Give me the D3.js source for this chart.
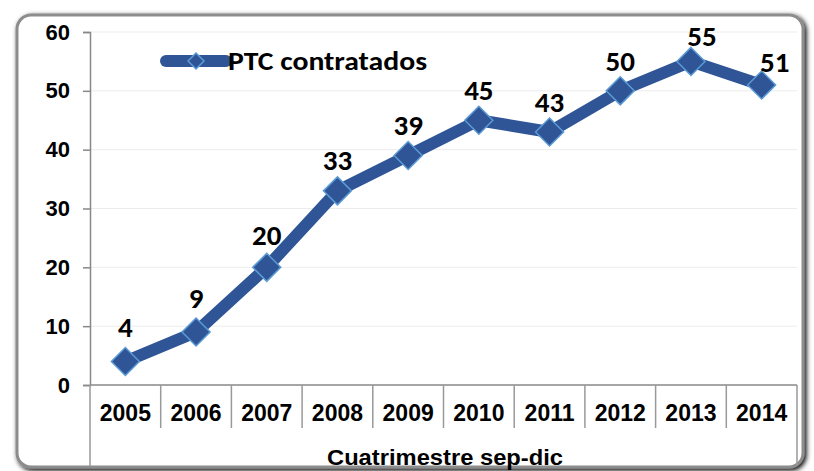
<!DOCTYPE html>
<html>
<head>
<meta charset="utf-8">
<script src="https://cdn.jsdelivr.net/npm/d3@7"></script>
<style>
  body { margin: 0; background: #fff; }
  svg { display: block; }
</style>
</head>
<body>
<div id="chart"></div>
<script>
const years = ["2005", "2006", "2007", "2008", "2009", "2010", "2011", "2012", "2013", "2014"];
const contratados = [4, 9, 20, 33, 39, 45, 43, 50, 55, 51];
const yTicks = [0, 10, 20, 30, 40, 50, 60];
const seriesName = "PTC contratados";
const axisTitle = "Cuatrimestre sep-dic";

const width = 814, height = 471;
const svg = d3.select("#chart").append("svg")
  .attr("width", width)
  .attr("height", height);

const defs = svg.append("defs");
const shadow = defs.append("filter").attr("id", "shadow")
  .attr("x", "-5%").attr("y", "-5%").attr("width", "110%").attr("height", "110%");
shadow.append("feGaussianBlur").attr("in", "SourceAlpha").attr("stdDeviation", 2.5);
shadow.append("feOffset").attr("dx", 2).attr("dy", 2).attr("result", "b");
const merge = shadow.append("feMerge");
merge.append("feMergeNode").attr("in", "b");
merge.append("feMergeNode").attr("in", "SourceGraphic");

// outer frame
svg.append("rect")
  .attr("x", 17).attr("y", 15)
  .attr("width", 786).attr("height", 452)
  .attr("rx", 14)
  .attr("fill", "#fff")
  .attr("stroke", "#8c8c8c")
  .attr("stroke-width", 3)
  .attr("filter", "url(#shadow)");

const plotLeft = 90, plotRight = 797, plotTop = 32, plotBottom = 385;
const axisFont = "'Liberation Sans', Arial, sans-serif";
const labelFont = "Carlito, Lato, 'Open Sans', sans-serif";

const x = d3.scaleBand().domain(years).range([plotLeft, plotRight]);
const y = d3.scaleLinear().domain([0, 60]).range([plotBottom, plotTop]);

const g = svg.append("g");

// gridlines
g.selectAll("line.grid")
  .data(yTicks.filter(d => d > 0))
  .enter().append("line")
  .attr("class", "grid")
  .attr("x1", plotLeft).attr("x2", plotRight)
  .attr("y1", d => y(d)).attr("y2", d => y(d))
  .attr("stroke", "#ececec")
  .attr("stroke-width", 1);

// y axis
const yAxis = g.append("g")
  .attr("transform", `translate(${plotLeft},0)`)
  .call(d3.axisLeft(y).tickValues(yTicks).tickSize(7).tickPadding(13));
yAxis.select(".domain").attr("stroke", "#888").attr("stroke-width", 1.5);
yAxis.selectAll(".tick line").attr("stroke", "#888").attr("stroke-width", 1.5);
yAxis.selectAll(".tick text")
  .attr("font-family", axisFont)
  .attr("font-weight", "bold")
  .attr("font-size", 22)
  .attr("fill", "#000");

// x axis (multi-level)
const xAxis = g.append("g")
  .attr("transform", `translate(0,${plotBottom})`)
  .call(d3.axisBottom(x).tickSize(0).tickPadding(20));
xAxis.select(".domain").remove();
xAxis.selectAll(".tick text")
  .attr("font-family", axisFont)
  .attr("font-weight", "bold")
  .attr("font-size", 23)
  .attr("fill", "#000");

g.append("line")
  .attr("x1", plotLeft).attr("x2", plotRight)
  .attr("y1", plotBottom).attr("y2", plotBottom)
  .attr("stroke", "#888").attr("stroke-width", 1.5);

g.selectAll("line.sep")
  .data(years.slice(1))
  .enter().append("line")
  .attr("class", "sep")
  .attr("x1", d => x(d)).attr("x2", d => x(d))
  .attr("y1", plotBottom).attr("y2", 428)
  .attr("stroke", "#999").attr("stroke-width", 1.5);

[plotLeft, plotRight].forEach(px => {
  g.append("line")
    .attr("x1", px).attr("x2", px)
    .attr("y1", plotBottom).attr("y2", 466)
    .attr("stroke", "#999").attr("stroke-width", 1.5);
});

g.append("text")
  .attr("x", 445)
  .attr("y", 465)
  .attr("text-anchor", "middle")
  .attr("font-family", axisFont)
  .attr("font-weight", "bold")
  .attr("font-size", 22)
  .attr("textLength", 236)
  .attr("lengthAdjust", "spacingAndGlyphs")
  .text(axisTitle);

// series
const cx = d => x(d) + x.bandwidth() / 2;
const line = d3.line()
  .x((d, i) => cx(years[i]))
  .y(d => y(d));

g.append("path")
  .datum(contratados)
  .attr("d", line)
  .attr("fill", "none")
  .attr("stroke", "#2f5597")
  .attr("stroke-width", 12)
  .attr("stroke-linejoin", "round");

const diamondShape = "M0,-14L14,0L0,14L-14,0Z";

g.selectAll("path.marker")
  .data(contratados)
  .enter().append("path")
  .attr("class", "marker")
  .attr("d", diamondShape)
  .attr("transform", (d, i) => `translate(${cx(years[i])},${y(d)})`)
  .attr("fill", "#2f5597")
  .attr("stroke", "#5b9bd5")
  .attr("stroke-width", 1.5);

// labels near the top edge get pushed right/down like in the original
const labelDx = i => i === 8 ? 11 : i === 9 ? 13 : 0;
const labelDy = (d, i) => i === 8 ? 15 : i === 9 ? 13 : 20 + (45 - d) * 0.1;

g.selectAll("text.label")
  .data(contratados)
  .enter().append("text")
  .attr("class", "label")
  .attr("x", (d, i) => cx(years[i]) + labelDx(i))
  .attr("y", (d, i) => y(d) - labelDy(d, i))
  .attr("text-anchor", "middle")
  .attr("font-family", labelFont)
  .attr("font-weight", "bold")
  .attr("font-size", 29)
  .attr("fill", "#000")
  .text(d => d);

// legend
const lg = g.append("g").attr("transform", "translate(166,61)");
lg.append("line")
  .attr("x1", 0).attr("x2", 60)
  .attr("y1", 0).attr("y2", 0)
  .attr("stroke", "#2f5597")
  .attr("stroke-width", 12)
  .attr("stroke-linecap", "round");
lg.append("path")
  .attr("d", "M0,-8L8,0L0,8L-8,0Z")
  .attr("transform", "translate(30,0)")
  .attr("fill", "#2f5597")
  .attr("stroke", "#5b9bd5")
  .attr("stroke-width", 1.5);
lg.append("text")
  .attr("x", 62).attr("y", 9)
  .attr("font-family", labelFont)
  .attr("font-weight", "bold")
  .attr("font-size", 27)
  .attr("textLength", 199)
  .attr("lengthAdjust", "spacingAndGlyphs")
  .text(seriesName);
</script>
</body>
</html>
